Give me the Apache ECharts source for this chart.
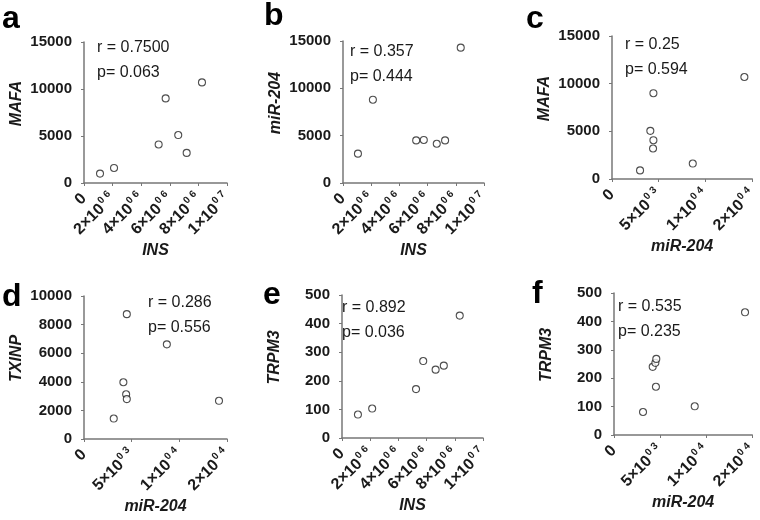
<!DOCTYPE html>
<html>
<head>
<meta charset="utf-8">
<script src="https://cdn.jsdelivr.net/npm/echarts@6/dist/echarts.min.js"></script>
<style>
html, body { margin: 0; padding: 0; background: #fff; }
#chart { width: 760px; height: 520px; }
</style>
</head>
<body>
<div id="chart"></div>
<script>
// panel a: INS vs MAFA
const insA = [1.12e6, 2.10e6, 5.22e6, 5.71e6, 6.59e6, 7.18e6, 8.25e6];
const mafaA = [1000, 1600, 4100, 9000, 5100, 3200, 10700];
// panel b: INS vs miR-204
const insB = [1.06e6, 2.12e6, 5.19e6, 5.73e6, 6.65e6, 7.24e6, 8.35e6];
const mirB = [3100, 8800, 4500, 4550, 4150, 4500, 14300];
// panel c: miR-204 vs MAFA (x read on the evenly spaced miR-204 scale)
const mirC = [3000, 4100, 4430, 4430, 4390, 8640, 14160];
const mafaC = [900, 5050, 9000, 4070, 3200, 1620, 10700];
// panel d: miR-204 vs TXINP
const mirD = [3120, 4130, 4490, 4420, 4490, 8690, 14160];
const txnipD = [1430, 3970, 8730, 3130, 2790, 6620, 2670];
// panel e: INS vs TRPM3
const insE = [1.13e6, 2.14e6, 5.25e6, 5.76e6, 6.64e6, 7.22e6, 8.35e6];
const trpm3E = [82, 103, 171, 269, 239, 253, 428];
// panel f: miR-204 vs TRPM3
const mirF = [3150, 4200, 4490, 4590, 4550, 8760, 14220];
const trpm3F = [81, 240, 254, 268, 170, 101, 432];

// tick labels
const insTickBase = ['0', '2×10', '4×10', '6×10', '8×10', '1×10'];
const insTickExp = ['', '0 6', '0 6', '0 6', '0 6', '0 7'];
const mirTickBase = ['0', '5×10', '1×10', '2×10'];
const mirTickExp = ['', '0 3', '0 4', '0 4'];

const letters = ['a', 'b', 'c', 'd', 'e', 'f'];
const rTexts = ['r = 0.7500', 'r = 0.357', 'r = 0.25', 'r = 0.286', 'r = 0.892', 'r = 0.535'];
const pTexts = ['p= 0.063', 'p= 0.444', 'p= 0.594', 'p= 0.556', 'p= 0.036', 'p= 0.235'];
const xNames = ['INS', 'INS', 'miR-204', 'miR-204', 'INS', 'miR-204'];
const yNames = ['MAFA', 'miR-204', 'MAFA', 'TXINP', 'TRPM3', 'TRPM3'];

const FONT = "Arial, 'Liberation Sans', sans-serif";
const INK = '#1a1a1a';
const AXIS = '#777';

// layout of each panel: plot area + where the letter and stats go
const panels = [
  { x: insA, y: mafaA, xk: 'ins', ymax: 15000, yint: 5000, grid: [84, 42, 143, 141], letter: [2, 3], stat: [97, 48] },
  { x: insB, y: mirB, xk: 'ins', ymax: 15000, yint: 5000, grid: [343, 41, 141, 142], letter: [264, 0], stat: [350, 52] },
  { x: mirC, y: mafaC, xk: 'mir', ymax: 15000, yint: 5000, grid: [612, 36, 142, 143], letter: [526, 3], stat: [625, 45] },
  { x: mirD, y: txnipD, xk: 'mir', ymax: 10000, yint: 2000, grid: [84, 296, 143, 143], letter: [2, 281], stat: [148, 303] },
  { x: insE, y: trpm3E, xk: 'ins', ymax: 500, yint: 100, grid: [342, 295, 141, 143], letter: [263, 279], stat: [342, 308] },
  { x: mirF, y: trpm3F, xk: 'mir', ymax: 500, yint: 100, grid: [614, 293, 143, 142], letter: [532, 278], stat: [618, 307] }
];

const grids = [], xAxes = [], yAxes = [], series = [], graphics = [];

panels.forEach((p, i) => {
  const [l, t, w, h] = p.grid;
  grids.push({ left: l, top: t, width: w, height: h });

  const isIns = p.xk === 'ins';
  const base = isIns ? insTickBase : mirTickBase;
  const exp = isIns ? insTickExp : mirTickExp;
  xAxes.push({
    gridIndex: i,
    type: 'value',
    min: 0,
    max: isIns ? 1e7 : 15000,
    interval: isIns ? 2e6 : 5000,
    offset: 8,
    name: xNames[i],
    nameLocation: 'middle',
    nameGap: 52,
    nameTextStyle: { fontFamily: FONT, fontSize: 16, fontWeight: 'bold', fontStyle: 'italic', color: INK },
    splitLine: { show: false },
    axisLine: { lineStyle: { color: AXIS, width: 1.5 } },
    axisTick: { length: 3, lineStyle: { color: AXIS } },
    axisLabel: {
      rotate: 45,
      margin: 5,
      color: INK,
      formatter: (v, idx) => exp[idx] ? '{b|' + base[idx] + '}{s|' + exp[idx] + '}' : '{b|' + base[idx] + '}',
      rich: {
        b: { fontFamily: FONT, fontSize: 16, fontWeight: 'bold', color: INK },
        s: { fontFamily: FONT, fontSize: 10, fontWeight: 'bold', color: INK, padding: [0, 0, 10, 1] }
      }
    }
  });

  yAxes.push({
    gridIndex: i,
    type: 'value',
    min: 0,
    max: p.ymax,
    interval: p.yint,
    offset: 7,
    name: yNames[i],
    nameLocation: 'middle',
    nameGap: 52,
    nameTextStyle: { fontFamily: FONT, fontSize: 16, fontWeight: 'bold', fontStyle: 'italic', color: INK, padding: [0, 0, 0, 18] },
    splitLine: { show: false },
    axisLine: { show: true, lineStyle: { color: AXIS, width: 1.5 } },
    axisTick: { show: true, length: 3, lineStyle: { color: AXIS } },
    axisLabel: { margin: 5, fontFamily: FONT, fontSize: 15, fontWeight: 'bold', color: INK, formatter: v => String(v) }
  });

  series.push({
    type: 'scatter',
    xAxisIndex: i,
    yAxisIndex: i,
    symbol: 'circle',
    symbolSize: 7,
    itemStyle: { color: '#fff', borderColor: '#222', borderWidth: 1.1 },
    data: p.x.map((xv, k) => [xv, p.y[k]])
  });

  graphics.push({
    type: 'text', left: p.letter[0], top: p.letter[1],
    style: { text: letters[i], font: 'bold 32px ' + FONT, fill: '#000' }
  });
  graphics.push({
    type: 'text', x: p.stat[0], y: p.stat[1],
    style: { text: rTexts[i], font: '16px ' + FONT, fill: INK, verticalAlign: 'middle' }
  });
  graphics.push({
    type: 'text', x: p.stat[0], y: p.stat[1] + 25,
    style: { text: pTexts[i], font: '16px ' + FONT, fill: INK, verticalAlign: 'middle' }
  });
});

const myChart = echarts.init(document.getElementById('chart'));
myChart.setOption({
  animation: false,
  backgroundColor: '#fff',
  grid: grids,
  xAxis: xAxes,
  yAxis: yAxes,
  series: series,
  graphic: graphics
});
</script>
</body>
</html>
